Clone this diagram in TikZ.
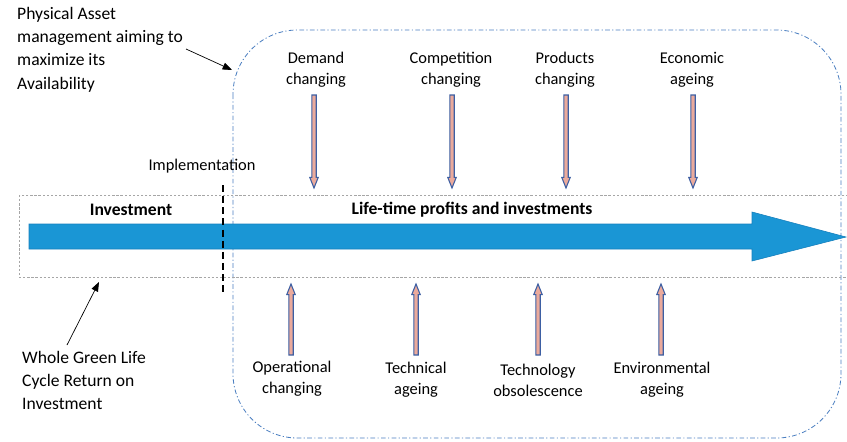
\documentclass[tikz,border=0pt]{standalone}
\usepackage{fontspec}
\setmainfont{Carlito}
\usetikzlibrary{arrows.meta,calc}
\definecolor{bigblue}{HTML}{1A96D5}
\definecolor{bigedge}{HTML}{1780BD}
\definecolor{frameblue}{HTML}{4A7EC0}
\definecolor{shaftblue}{HTML}{3D5FA3}
\definecolor{shaftpink}{HTML}{EBAA9C}
\tikzset{
  note/.style={align=left,font=\fontsize{15}{19.8}\selectfont,inner sep=0pt},
  factor/.style={align=center,font=\fontsize{14}{17.8}\selectfont,inner sep=0pt},
  phase/.style={font=\bfseries\fontsize{15}{18}\selectfont,inner sep=0pt},
  shaft/.style={fill=shaftpink,draw=shaftblue,line width=0.9pt,line join=miter},
  pointer/.style={draw=black,line width=0.6pt,-{Triangle[length=8pt,width=6pt]}},
}
\newcommand\factorarrow[2]{%
  \filldraw[shaft] let \p1=(#1), \p2=(#2), \n1={sign(\y2-\y1)} in
   (\x1-1.9pt,\y1) -- (\x1+1.9pt,\y1) -- (\x1+1.9pt,\y2-\n1*9pt) -- (\x1+3.6pt,\y2-\n1*9pt)
   -- (\x1,\y2) -- (\x1-3.6pt,\y2-\n1*9pt) -- (\x1-1.9pt,\y2-\n1*9pt) -- cycle;}
\begin{document}
\begin{tikzpicture}[x=0.03cm,y=-0.03cm]
\useasboundingbox (0,0) rectangle (847,441);
\begin{scope}
\clip (0,0) rectangle (847,441);
% outer dash-dot frame
\draw[frameblue,line width=0.7pt,dash pattern=on 4pt off 2pt on 1pt off 2pt,rounded corners=55pt]
  (233,30) rectangle (841,438);
% dotted band
\draw[gray!70,line width=0.6pt,dash pattern=on 2pt off 1.5pt] (19,195) rectangle (850,277);
% big arrow
\filldraw[fill=bigblue,draw=bigedge,line width=0.5pt]
  (29,224) -- (752,224) -- (752,212) -- (846,237) -- (752,261) -- (752,249) -- (29,249) -- cycle;
\end{scope}
% implementation line
\node[factor] (impl) at (202,166) {Implementation};
\coordinate (implTop) at (223,185);
\coordinate (implBot) at (223,292);
\draw[black,line width=2pt,dash pattern=on 6pt off 3.5pt] (implTop) -- (implBot);
% phase labels
\node[phase] (inv) at (131,210) {Investment};
\node[phase] (life) at (472,210) {Life-time profits and investments};
% notes
\node[note,anchor=north west] (pam) at (17,7) {Physical Asset\\management aiming to\\maximize its\\Availability};
\coordinate (pamFrom) at (186,49);
\coordinate (pamTo) at (232,70);
\draw[pointer] (pamFrom) -- (pamTo);
\node[note,anchor=north west] (wgl) at (22,351) {Whole Green Life\\Cycle Return on\\Investment};
\coordinate (wglFrom) at (67,345);
\coordinate (wglTo) at (99,282);
\draw[pointer] (wglFrom) -- (wglTo);
% top factors
\node[factor] (dem) at (316,70) {Demand\\changing};
\node[factor] (comp) at (451,70) {Competition\\changing};
\node[factor] (prod) at (565,70) {Products\\changing};
\node[factor] (eco) at (692,70) {Economic\\ageing};
\coordinate (demA) at (314,95);  \coordinate (demB) at (314,188);
\coordinate (compA) at (452,95); \coordinate (compB) at (452,188);
\coordinate (prodA) at (566,95); \coordinate (prodB) at (566,188);
\coordinate (ecoA) at (693,95);  \coordinate (ecoB) at (693,188);
\factorarrow{demA}{demB}
\factorarrow{compA}{compB}
\factorarrow{prodA}{prodB}
\factorarrow{ecoA}{ecoB}
% bottom factors
\node[factor] (oper) at (292,379) {Operational\\changing};
\node[factor] (tech) at (416,380) {Technical\\ageing};
\node[factor] (tobs) at (538,380) {Technology\\obsolescence};
\node[factor] (env) at (662,380) {Environmental\\ageing};
\coordinate (operA) at (291,355); \coordinate (operB) at (291,284);
\coordinate (techA) at (416,355); \coordinate (techB) at (416,284);
\coordinate (tobsA) at (538,355); \coordinate (tobsB) at (538,284);
\coordinate (envA) at (661,355);  \coordinate (envB) at (661,284);
\factorarrow{operA}{operB}
\factorarrow{techA}{techB}
\factorarrow{tobsA}{tobsB}
\factorarrow{envA}{envB}
\end{tikzpicture}
\end{document}
